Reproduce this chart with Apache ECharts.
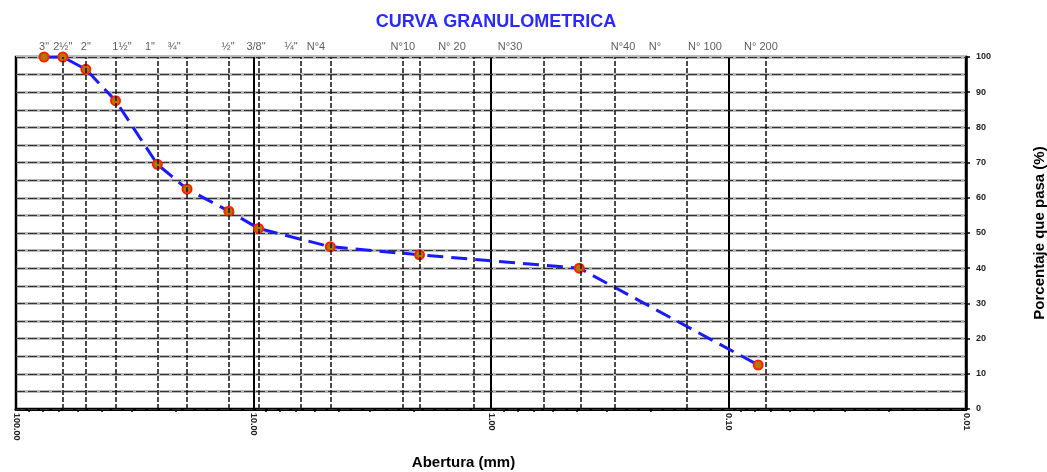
<!DOCTYPE html>
<html><head><meta charset="utf-8">
<script src="https://cdn.jsdelivr.net/npm/echarts@6/dist/echarts.min.js"></script>
<style>html,body{margin:0;padding:0;background:#fff}#c{width:1047px;height:472px}</style>
</head><body><div id="c"></div>
<script>
// Sample: sieve aperture (mm) and percent passing
var aperture = [76.2, 63.5, 50.8, 38.1, 25.4, 19.05, 12.7, 9.525, 4.75, 2.0, 0.425, 0.075];
var passing  = [100, 100, 96.5, 87.6, 69.5, 62.5, 56.2, 51.3, 46.1, 43.8, 40.0, 12.5];
// Sieve reference lines (mm)
var sieveLines = [63.5, 50.8, 38.1, 25.4, 19.05, 12.7, 9.525, 6.35, 4.75, 2.36, 2.0, 1.18, 0.6, 0.425, 0.3, 0.15, 0.075];
// Top sieve labels and where they sit along the aperture axis (mm)
var sieveNames = ['3"', '2½"', '2"', '1½"', '1"', '¾"', '½"', '3/8"', '¼"', 'N°4', 'N°10', 'N° 20', 'N°30', 'N°40', 'N°', 'N° 100', 'N° 200'];
var sieveNameAt = [76.2, 63.5, 50.8, 35.8, 27.3, 21.6, 12.8, 9.76, 6.95, 5.46, 2.35, 1.46, 0.832, 0.278, 0.204, 0.1256, 0.073];
var yTicks = [0, 10, 20, 30, 40, 50, 60, 70, 80, 90, 100];

var chart = echarts.init(document.getElementById('c'));
var font = 'Liberation Sans, Arial, sans-serif';
chart.setOption({
  animation: false,
  backgroundColor: '#fff',
  title: {
    text: 'CURVA GRANULOMETRICA', left: 491, top: 8, textAlign: 'center',
    textStyle: {color: '#2a2aff', fontWeight: 'bold', fontSize: 18, fontFamily: font}
  },
  grid: {left: 16, right: 81, top: 57, bottom: 63, show: true, borderColor: '#000', borderWidth: 2.5,
    backgroundColor: '#fff', outerBoundsMode: 'none', containLabel: false},
  xAxis: {
    type: 'log', logBase: 10, min: 0.01, max: 100, inverse: true,
    name: 'Abertura (mm)', nameLocation: 'middle', nameGap: 46,
    nameTextStyle: {fontWeight: 'bold', fontSize: 15, color: '#000', fontFamily: font, padding: [0, 55, 0, 0]},
    axisLine: {lineStyle: {color: '#000', width: 3}},
    axisTick: {show: false},
    minorTick: {show: true, splitNumber: 8, length: 3, lineStyle: {color: '#000', width: 1.5}},
    axisLabel: {rotate: -90, fontSize: 9, fontWeight: 'bold', color: '#222', fontFamily: font, margin: 4,
      formatter: function (v) { return Number(v).toFixed(2); }},
    splitLine: {show: true, lineStyle: {color: '#000', width: 2}}
  },
  yAxis: [{
    type: 'value', min: 0, max: 100, interval: 10, position: 'right', z: 1,
    name: 'Porcentaje que pasa (%)', nameLocation: 'middle', nameRotate: 90, nameGap: 66,
    nameTextStyle: {fontWeight: 'bold', fontSize: 15, color: '#000', fontFamily: font},
    axisLine: {show: true, lineStyle: {color: '#000', width: 2.5}},
    axisTick: {show: true, inside: false, length: 4, lineStyle: {color: '#000', width: 1.5}},
    axisLabel: {fontSize: 9, fontWeight: 'bold', color: '#222', fontFamily: font, margin: 10,
      formatter: function (v) { return yTicks.indexOf(v) >= 0 ? String(v) : ''; }},
    minorTick: {show: false, splitNumber: 2},
    splitLine: {show: true, lineStyle: {color: '#333', width: 1.2, type: [9, 3]}},
    minorSplitLine: {show: true, lineStyle: {color: '#333', width: 1.2, type: [9, 3]}}
  }, {
    type: 'value', min: 0, max: 100, interval: 10, position: 'right', z: 0,
    axisLine: {show: false}, axisTick: {show: false}, axisLabel: {show: false},
    minorTick: {show: false, splitNumber: 2},
    splitLine: {show: true, lineStyle: {color: '#b8b8b8', width: 3}},
    minorSplitLine: {show: true, lineStyle: {color: '#b8b8b8', width: 3}}
  }],
  series: [{
    type: 'line', data: [], z: 1, silent: true,
    markLine: {
      silent: true, symbol: 'none', animation: false,
      label: {show: false},
      lineStyle: {color: '#111', width: 1.5, type: [5, 2]},
      data: sieveLines.map(function (v) { return {xAxis: v}; })
    }
  }, {
    name: 'Curva', type: 'line', z: 3,
    data: aperture.map(function (a, i) { return [a, passing[i]]; }),
    lineStyle: {color: '#1a1aff', width: 3, type: [16, 8]},
    symbol: 'circle', symbolSize: 9,
    itemStyle: {color: '#b07800', borderColor: '#ff2200', borderWidth: 2}
  }, {
    type: 'scatter', z: 4, silent: true, symbolSize: 0.1,
    itemStyle: {color: 'transparent'},
    data: sieveNames.map(function (n, i) { return [sieveNameAt[i], 100, n]; }),
    label: {show: true, position: 'top', distance: 4, color: '#333', fontSize: 11, fontFamily: font,
      formatter: function (p) { return p.data[2]; }}
  }]
});
</script></body></html>
